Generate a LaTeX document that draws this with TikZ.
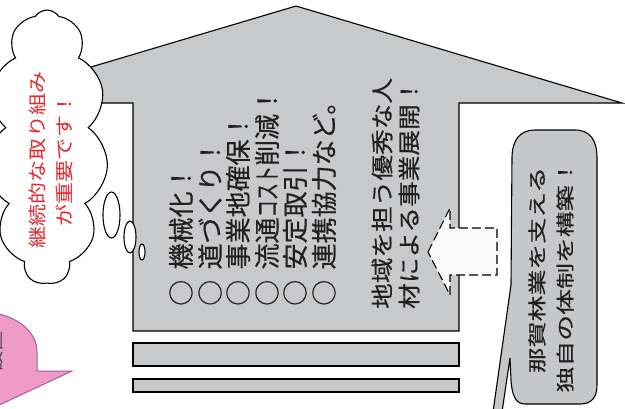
\documentclass[tikz,border=0pt]{standalone}
\usepackage{fontspec}
\usepackage{graphicx}
\usetikzlibrary{shapes.symbols}
\newfontfamily\jp[FakeBold=0.4]{Noto Sans CJK JP}
\newfontfamily\jpplain{Noto Sans CJK JP}
\newfontfamily\jpcloud[FakeStretch=1.19]{Noto Sans CJK JP}
\newfontfamily\jpcall[FakeStretch=1.4,FakeBold=0.4]{Noto Sans CJK JP}
\newfontfamily\jpright[FakeStretch=1.14,FakeBold=0.4]{Noto Sans CJK JP}
\definecolor{housegray}{HTML}{C8C9CB}
\definecolor{callgray}{HTML}{C6C7C9}
\definecolor{txtblack}{HTML}{231F20}
\definecolor{redtxt}{HTML}{E8262D}
\definecolor{pinkfill}{HTML}{F09AC6}
\definecolor{pinkline}{HTML}{A45CA6}
\begin{document}
\begin{tikzpicture}[x=1pt,y=-1pt,
  outl/.style={draw=black, line width=1.1pt, line join=miter},
  listtxt/.style={rotate=90, anchor=west, inner sep=0, text=txtblack, font=\jp\fontsize{26}{26}\selectfont},
  righttxt/.style={rotate=90, anchor=west, inner sep=0, text=txtblack, font=\jpright\fontsize{22.5}{22.5}\selectfont},
  calltxt/.style={rotate=90, anchor=center, inner sep=0, text=txtblack, font=\jpcall\fontsize{18.5}{18.5}\selectfont},
  cloudtxt/.style={rotate=90, anchor=center, inner sep=0, text=redtxt, font=\jpcloud\fontsize{18.5}{18.5}\selectfont},
  bubble/.style={draw=black, line width=1.1pt, fill=white}
]
\clip (0,0) rectangle (625,408);
\fill[white] (0,0) rectangle (625,408);

% house
\path[outl, fill=housegray] (-30,103) -- (296,6) -- (622,103) -- (459,103) -- (459,331) -- (133,331) -- (133,103) -- cycle;
\path[outl, fill=housegray] (133,343) rectangle (459,366);
\path[outl, fill=housegray] (133,379) rectangle (459,392);

% dashed arrow
\path[draw=black, line width=1.1pt, dash pattern=on 9pt off 4pt, fill=white!95!gray]
  (428,252) -- (450,208) -- (450,228) -- (497,228) -- (497,275) -- (450,275) -- (450,295) -- cycle;

% right callout
\path[outl, fill=callgray] (493,412) -- (511,285) -- (512,158)
  .. controls (512,140) and (520,130) .. (535,130) -- (575,130)
  .. controls (590,130) and (597,140) .. (597,158) -- (597,385)
  .. controls (597,398) and (591,404) .. (580,404) -- (525,404)
  .. controls (516,404) and (512,396) .. (511,380) -- (510,358) -- (502,412);

% cloud
\node[cloud, cloud puffs=11, cloud puff arc=115, cloud ignores aspect, draw=black, line width=1.1pt,
  fill=white, minimum width=122pt, minimum height=274pt, inner sep=0] (cl) at (47,147) {};
\draw[bubble] (111.5,215) ellipse [x radius=8.5, y radius=23];
\draw[bubble] (130,237) ellipse [x radius=6, y radius=16];
\draw[bubble] (142,252) ellipse [x radius=3, y radius=8];

% pink callout
\path[draw=pinkline, line width=1pt, fill=pinkfill] (-5,313)
  .. controls (20,318) and (37,333) .. (37,352) -- (37,371) -- (72,371) -- (-5,407) -- cycle;
\node[rotate=90, anchor=center, inner sep=0, text=txtblack!80, font=\jpplain\fontsize{20}{20}\selectfont] (pk) at (-6,351) {設置};

% texts in house
\node[listtxt] (l1) at (181,306) {○\hspace{0.4em}機械化！};
\node[listtxt] (l2) at (210,306) {○\hspace{0.4em}道づくり！};
\node[listtxt] (l3) at (238,306) {○\hspace{0.4em}事業地確保！};
\node[listtxt] (l4) at (267,306) {○\hspace{0.4em}流通\scalebox{0.66}[1]{コスト}削減！};
\node[listtxt] (l5) at (295,306) {○\hspace{0.4em}安定取引！};
\node[listtxt] (l6) at (324,306) {○\hspace{0.4em}連携協力など。};

\node[righttxt] (r1) at (382,309) {地域を担う優秀な人};
\node[righttxt] (r2) at (409,309) {材による事業展開！};

% callout text
\node[calltxt] (c1) at (537,270) {那賀林業を支える};
\node[calltxt] (c2) at (565,276) {独自の体制を構築！};

% cloud text
\node[cloudtxt] (k1) at (37,160) {継続的な取り組み};
\node[cloudtxt] (k2) at (64,160) {が重要です！};
\end{tikzpicture}
\end{document}
